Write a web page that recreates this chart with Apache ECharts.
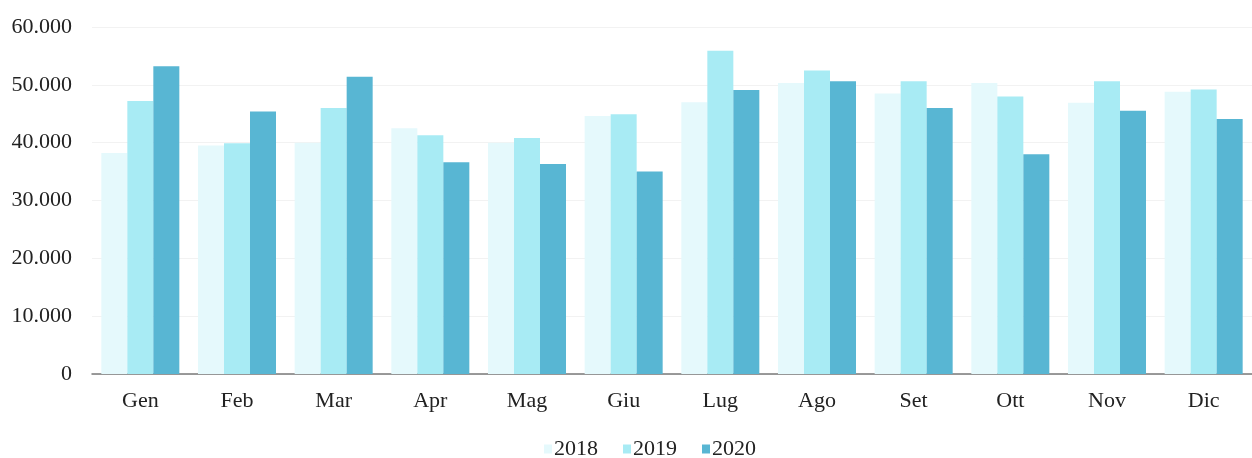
<!DOCTYPE html>
<html>
<head>
<meta charset="utf-8">
<style>
  html, body { margin: 0; padding: 0; background: #ffffff; }
  #chart { width: 1252px; height: 458px; }
</style>
<script src="https://cdn.jsdelivr.net/npm/echarts@6/dist/echarts.min.js"></script>
</head>
<body>
<div id="chart"></div>
<script>
// Monthly values, one array per year
const months = ['Gen', 'Feb', 'Mar', 'Apr', 'Mag', 'Giu', 'Lug', 'Ago', 'Set', 'Ott', 'Nov', 'Dic'];
const years = ['2018', '2019', '2020'];
const values2018 = [38200, 39500, 40000, 42500, 40000, 44600, 47000, 50300, 48500, 50300, 46900, 48800];
const values2019 = [47200, 39900, 46000, 41300, 40800, 44900, 55900, 52500, 50600, 48000, 50600, 49200];
const values2020 = [53200, 45400, 51400, 36600, 36300, 35000, 49100, 50600, 46000, 38000, 45500, 44100];
const yTicks = [0, 10000, 20000, 30000, 40000, 50000, 60000];

const colors = ['#e5f9fc', '#a8ebf4', '#58b6d3'];
const font = '"Liberation Serif", "Times New Roman", serif';

// Italian-style thousands separator: 60000 -> 60.000
function fmt(v) {
  return String(v).replace(/\B(?=(\d{3})+(?!\d))/g, '.');
}

const chart = echarts.init(document.getElementById('chart'), null, { renderer: 'canvas' });

const seriesData = [values2018, values2019, values2020];

chart.setOption({
  animation: false,
  color: colors,
  grid: { left: 92, top: 27, width: 1166, height: 347, containLabel: false },
  legend: {
    data: years,
    top: 433,
    left: 539,
    itemWidth: 8,
    itemHeight: 9,
    itemGap: 25,
    icon: 'rect',
    textStyle: { fontFamily: font, fontSize: 22, color: '#222222', padding: [0, 0, 0, -3] }
  },
  xAxis: {
    type: 'category',
    data: months,
    axisTick: { show: false },
    axisLine: { lineStyle: { color: '#7a7a7a', width: 1.5 } },
    axisLabel: { fontFamily: font, fontSize: 22, color: '#222222', margin: 16 }
  },
  yAxis: {
    type: 'value',
    min: yTicks[0],
    max: yTicks[yTicks.length - 1],
    interval: yTicks[1] - yTicks[0],
    axisLine: { show: false },
    axisTick: { show: false },
    splitLine: { lineStyle: { color: '#f2f2f2', width: 1 } },
    axisLabel: { fontFamily: font, fontSize: 22, color: '#222222', margin: 20, formatter: fmt }
  },
  series: years.map((y, i) => ({
    name: y,
    type: 'bar',
    data: seriesData[i],
    barWidth: 26,
    barGap: '0%',
    itemStyle: { color: colors[i] }
  }))
});
</script>
</body>
</html>
